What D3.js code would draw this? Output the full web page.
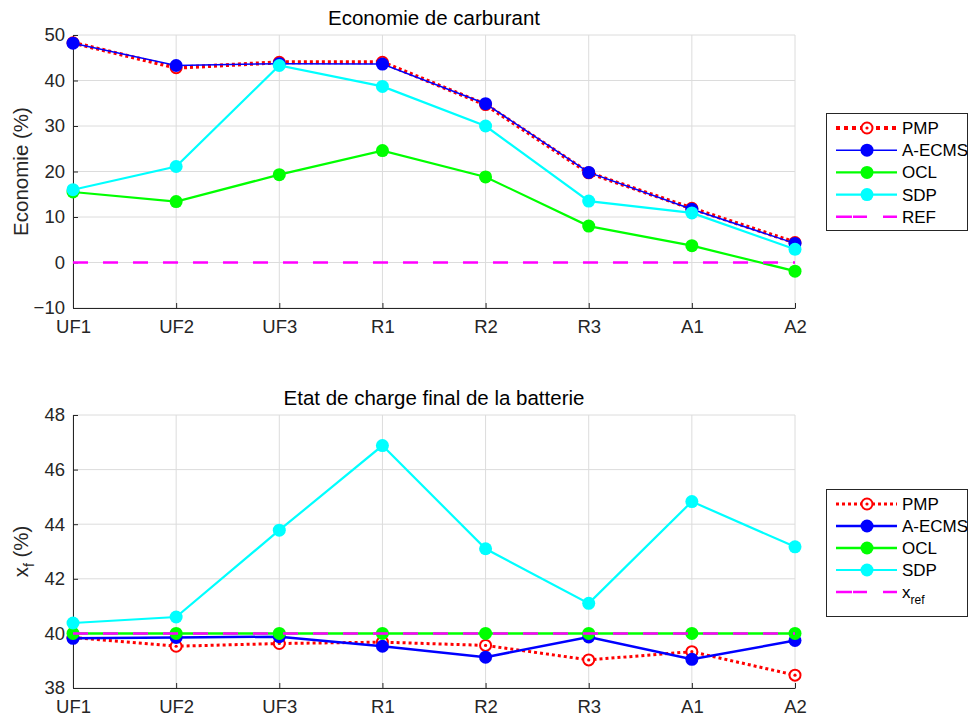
<!DOCTYPE html>
<html>
<head>
<meta charset="utf-8">
<script src="https://cdn.jsdelivr.net/npm/d3@7"></script>
<style>
  body { margin: 0; background: #fff; }
  text { font-family: "Liberation Sans", Arial, sans-serif; fill: #262626; }
</style>
</head>
<body>
<div id="chart"></div>
<script>
// cycles
var cycles = ["UF1", "UF2", "UF3", "R1", "R2", "R3", "A1", "A2"]

// Economie de carburant (%)
var ecoPMP = [48.3, 42.8, 44.0, 44.0, 34.7, 19.7, 11.9, 4.4]
var ecoECMS = [48.2, 43.3, 43.7, 43.6, 34.9, 19.8, 11.7, 4.2]
var ecoOCL = [15.5, 13.4, 19.3, 24.6, 18.8, 8.0, 3.7, -1.9]
var ecoSDP = [16.0, 21.1, 43.3, 38.7, 30.0, 13.5, 10.9, 2.9]
var ecoREF = [0, 0, 0, 0, 0, 0, 0, 0]

// Etat de charge final (%)
var socPMP = [39.85, 39.53, 39.63, 39.68, 39.56, 39.03, 39.33, 38.47]
var socECMS = [39.82, 39.85, 39.88, 39.53, 39.13, 39.87, 39.05, 39.74]
var socOCL = [40, 40, 40, 40, 40, 40, 40, 40]
var socSDP = [40.38, 40.6, 43.78, 46.88, 43.1, 41.1, 44.83, 43.17]
var socREF = [40, 40, 40, 40, 40, 40, 40, 40]

var ecoTicks = [-10, 0, 10, 20, 30, 40, 50]
var socTicks = [38, 40, 42, 44, 46, 48]

var svg = d3.select("#chart")
	.append("svg")
	.attr("width", 969)
	.attr("height", 720)
	.style("background", "#fff")

var xScale = d3.scalePoint()
	.domain(cycles)
	.range([73, 795])

function drawPanel(opts) {
	var y = d3.scaleLinear().domain(opts.domain).range(opts.range)
	var g = svg.append("g")
	var top = opts.range[1], bottom = opts.range[0]

	// grid
	g.append("g").selectAll("line")
		.data(opts.ticks)
		.enter().append("line")
		.attr("x1", 73).attr("x2", 795)
		.attr("y1", d => y(d)).attr("y2", d => y(d))
		.style("stroke", "#dcdcdc")
	g.append("g").selectAll("line")
		.data(cycles)
		.enter().append("line")
		.attr("x1", d => xScale(d)).attr("x2", d => xScale(d))
		.attr("y1", top).attr("y2", bottom)
		.style("stroke", "#dcdcdc")

	// axes
	var yAxis = d3.axisLeft(y).tickValues(opts.ticks).tickSizeInner(-5).tickSizeOuter(0).tickPadding(8)
	var gY = g.append("g")
		.attr("transform", "translate(73,0)")
		.call(yAxis)
	var xAxis = d3.axisBottom(xScale).tickSizeInner(-5).tickSizeOuter(0).tickPadding(12)
	var gX = g.append("g")
		.attr("transform", `translate(0,${bottom})`)
		.call(xAxis)
	;[gX, gY].forEach(function(a) {
		a.select(".domain").style("stroke", "#262626")
		a.selectAll(".tick line").style("stroke", "#262626")
		a.selectAll(".tick text")
			.style("font-size", "18.5px")
			.style("fill", "#262626")
			.style("font-family", "'Liberation Sans', Arial, sans-serif")
	})

	// titles
	g.append("text")
		.attr("x", 434)
		.attr("y", top - 10)
		.attr("text-anchor", "middle")
		.style("font-size", "20.5px")
		.style("fill", "#000")
		.text(opts.title)

	var yl = g.append("text")
		.attr("transform", `translate(28,${(top + bottom) / 2}) rotate(-90)`)
		.attr("text-anchor", "middle")
		.style("font-size", "20.5px")
	opts.ylabel(yl)

	// series
	var line = d3.line()
		.x((d, i) => xScale(cycles[i]))
		.y(d => y(d))

	opts.series.forEach(function(s) {
		g.append("path")
			.attr("d", line(s.values))
			.attr("fill", "none")
			.attr("stroke", s.color)
			.attr("stroke-width", s.width)
			.attr("stroke-dasharray", s.dash || null)
		if (s.marker) {
			var mk = g.append("g").selectAll("g")
				.data(s.values)
				.enter().append("g")
				.attr("transform", (d, i) => `translate(${xScale(cycles[i])},${y(d)})`)
			addMarker(mk, s)
		}
	})

	// legend
	var lg = g.append("g")
	lg.append("rect")
		.attr("x", 826.5).attr("y", opts.legendY + 0.5)
		.attr("width", 141).attr("height", opts.legendH)
		.attr("fill", "#fff")
		.attr("stroke", "#262626")
	opts.series.forEach(function(s, i) {
		var ly = opts.legendY + 15 + i * opts.legendStep
		lg.append("line")
			.attr("x1", 836).attr("x2", 897)
			.attr("y1", ly).attr("y2", ly)
			.attr("stroke", s.color)
			.attr("stroke-width", s.width)
			.attr("stroke-dasharray", s.legendDash || s.dash || null)
		if (s.marker) {
			var m = lg.append("g").attr("transform", `translate(867,${ly})`)
			addMarker(m, s)
		}
		var t = lg.append("text")
			.attr("x", 902)
			.attr("y", ly + 6)
			.style("font-size", "17px")
			.style("fill", "#000")
		if (s.name == "x_ref") {
			t.append("tspan").text("x")
			t.append("tspan").attr("dy", 6).style("font-size", "12px").text("ref")
		} else {
			t.text(s.name)
		}
	})
}

function addMarker(sel, s) {
	if (s.marker == "open") {
		sel.append("circle")
			.attr("r", 5.5)
			.attr("fill", "#fff")
			.attr("stroke", s.color)
			.attr("stroke-width", 2)
		sel.append("circle")
			.attr("r", 1.6)
			.attr("fill", s.color)
	} else {
		sel.append("circle")
			.attr("r", 6.5)
			.attr("fill", s.color)
	}
}

drawPanel({
	domain: [-10, 50],
	range: [308, 35],
	ticks: ecoTicks,
	title: "Economie de carburant",
	ylabel: function(t) { t.text("Economie (%)") },
	legendY: 113,
	legendH: 117,
	legendStep: 22.2,
	series: [
		{ name: "PMP", values: ecoPMP, color: "#ff0000", width: 4, dash: "3,3", marker: "open", legendDash: "4,4" },
		{ name: "A-ECMS", values: ecoECMS, color: "#0000ff", width: 1.5, marker: "fill" },
		{ name: "OCL", values: ecoOCL, color: "#00ff00", width: 2.2, marker: "fill" },
		{ name: "SDP", values: ecoSDP, color: "#00ffff", width: 2.2, marker: "fill" },
		{ name: "REF", values: ecoREF, color: "#ff00ff", width: 2.5, dash: "15,15", legendDash: "16,1,14,16,14" }
	]
})

drawPanel({
	domain: [38, 48],
	range: [688, 415],
	ticks: socTicks,
	title: "Etat de charge final de la batterie",
	ylabel: function(t) {
		t.append("tspan").text("x")
		t.append("tspan").attr("dy", 6).style("font-size", "14px").text("f")
		t.append("tspan").attr("dy", -6).text(" (%)")
	},
	legendY: 489,
	legendH: 127,
	legendStep: 22,
	series: [
		{ name: "PMP", values: socPMP, color: "#ff0000", width: 3, dash: "3,3", marker: "open" },
		{ name: "A-ECMS", values: socECMS, color: "#0000ff", width: 2.5, marker: "fill" },
		{ name: "OCL", values: socOCL, color: "#00ff00", width: 2.5, marker: "fill" },
		{ name: "SDP", values: socSDP, color: "#00ffff", width: 2.2, marker: "fill" },
		{ name: "x_ref", values: socREF, color: "#ff00ff", width: 2.5, dash: "15,15", legendDash: "16,1,14,16,14" }
	]
})
</script>
</body>
</html>
